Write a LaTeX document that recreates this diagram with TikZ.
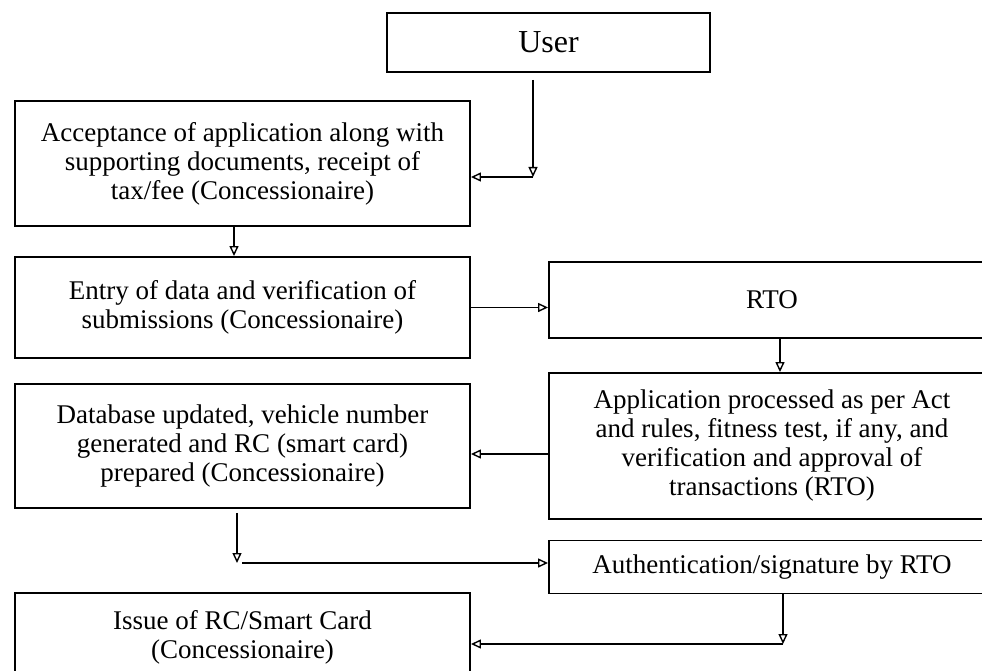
\documentclass[tikz,border=0pt]{standalone}
\usepackage{fontspec}
\setmainfont{Liberation Serif}
\usetikzlibrary{shapes,arrows.meta,positioning}

\tikzset{
    box/.style={draw, line width=1.9pt, rectangle, align=center, inner sep=0pt,
        font=\fontsize{27}{29}\selectfont},
    flow/.style={line width=1.7pt, -{Triangle[open,length=10pt,width=9pt,line width=1.4pt]}}
}

\begin{document}
\begin{tikzpicture}[x=1pt,y=-1pt]
    % page frame, right boxes run off the edge
    \path[use as bounding box, clip] (0,0) rectangle (982,671);

    % left column (Concessionaire)
    \node[box, minimum width=323, minimum height=59, font=\fontsize{32}{34}\selectfont] (user) at (548.5,42.5) {User};
    \node[box, minimum width=455, minimum height=125] (accept) at (242.5,163.5)
        {Acceptance of application along with\\ supporting documents, receipt of\\ tax/fee (Concessionaire)};
    \node[box, minimum width=455, minimum height=101] (entry) at (242.5,307.5)
        {Entry of data and verification of\\ submissions (Concessionaire)};
    \node[box, minimum width=455, minimum height=124] (db) at (242.5,446)
        {Database updated, vehicle number\\ generated and RC (smart card)\\ prepared (Concessionaire)};
    \node[box, minimum width=455, minimum height=88] (issue) at (242.5,637)
        {Issue of RC/Smart Card\\ (Concessionaire)};

    % right column (RTO)
    \node[box, minimum width=446, minimum height=76] (rto) at (772,300) {RTO};
    \node[box, minimum width=446, minimum height=146] (app) at (772,446)
        {Application processed as per Act\\ and rules, fitness test, if any, and\\ verification and approval of\\ transactions (RTO)};
    \node[box, minimum width=446, minimum height=53] (auth) at (772,567)
        {Authentication/signature by RTO};

    % corners of the bent connectors
    \coordinate (c1) at (533,177);
    \coordinate (c2) at (237,563);
    \coordinate (c3) at (783,644);

    % connectors
    \draw[flow, shorten <=7pt] (user.south -| c1) -- (c1);
    \draw[flow] (c1) -- (c1 -| accept.east);
    \draw[flow] ([xshift=-8.5pt]accept.south) -- ([xshift=-8.5pt]entry.north);
    \draw[flow] (entry.east) -- (entry.east -| rto.west);
    \draw[flow] ([xshift=8pt]rto.south) -- ([xshift=8pt]app.north);
    \draw[flow] ([yshift=-8pt]app.west) -- ([yshift=-8pt]app.west -| db.east);
    \draw[flow, shorten <=4pt] (db.south -| c2) -- (c2);
    \draw[flow] ([xshift=5pt]c2) -- (c2 -| auth.west);
    \draw[flow] (auth.south -| c3) -- (c3);
    \draw[flow] (c3) -- (c3 -| issue.east);
\end{tikzpicture}
\end{document}
